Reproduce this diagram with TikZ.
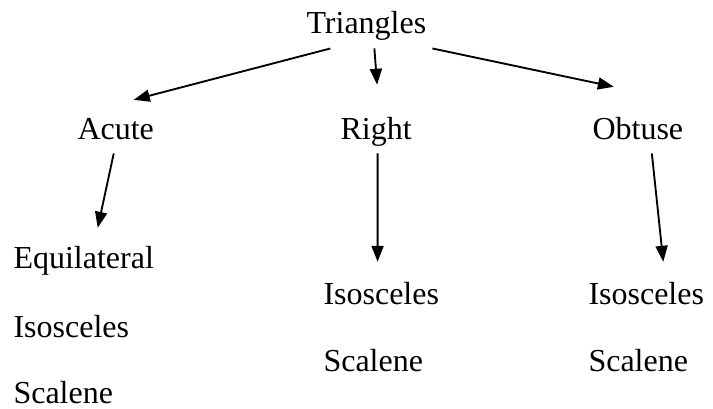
\documentclass[tikz,border=0pt]{standalone}
\usepackage{fontspec}
\setmainfont{Liberation Serif}
\usetikzlibrary{arrows.meta,calc}
\begin{document}
\begin{tikzpicture}[x=0.375pt,y=-0.375pt,
    lbl/.style={anchor=base west,inner sep=0pt,text height=8.5pt,text depth=2.6pt,
                font=\fontsize{12pt}{14pt}\selectfont},
    arr/.style={-{Triangle[length=6pt,width=4.5pt]},line width=0.7pt}]
\useasboundingbox (0,0) rectangle (713,409);
% top
\node[lbl] (tri) at (306,34) {Triangles};
% kinds
\node[lbl] (acute)  at (77,140)  {Acute};
\node[lbl] (right)  at (340,140) {Right};
\node[lbl] (obtuse) at (592,140) {Obtuse};
% acute column
\node[lbl] (equiA) at (13,269) {Equilateral};
\node[lbl] (isoA)  at (13,338) {Isosceles};
\node[lbl] (scaA)  at (13,404) {Scalene};
% right column
\node[lbl] (isoR) at (323,305) {Isosceles};
\node[lbl] (scaR) at (323,372) {Scalene};
% obtuse column
\node[lbl] (isoO) at (588,305) {Isosceles};
\node[lbl] (scaO) at (588,372) {Scalene};
% arrows
\draw[arr] ($(tri.south)+(-36,7)$) -- ($(acute.north)+(18,-17)$);
\draw[arr] ($(tri.south)+(8,7)$)   -- ($(right.north)+(1,-32)$);
\draw[arr] ($(tri.south)+(66,7)$)  -- ($(obtuse.north)+(-24,-30)$);
\draw[arr] ($(acute.south)+(-2,6)$)  -- ($(equiA.north)+(14,-18)$);
\draw[arr] ($(right.south)+(1.5,6)$) -- ($(isoR.north)+(-3.7,-20)$);
\draw[arr] ($(obtuse.south)+(14,6)$) -- ($(isoO.north)+(17,-20)$);
\end{tikzpicture}
\end{document}
